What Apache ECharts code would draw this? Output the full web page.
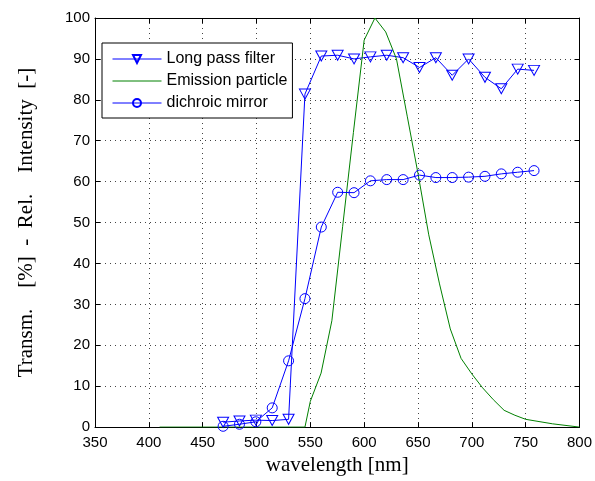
<!DOCTYPE html>
<html>
<head>
<meta charset="utf-8">
<script src="https://cdn.jsdelivr.net/npm/echarts@6/dist/echarts.min.js"></script>
<style>
  html, body { margin: 0; padding: 0; background: #fff; }
  #chart { width: 595px; height: 481px; }
</style>
</head>
<body>
<div id="chart"></div>
<script>
// ---- data ----
const filterWavelengths = [469, 484.2, 499.4, 514.6, 529.8, 545, 560.2, 575.4, 590.6, 605.8, 621, 636.2, 651.4, 666.6, 681.8, 697, 712.2, 727.4, 742.6, 757.8];
const longPassFilter = [1.2, 1.5, 1.7, 1.6, 1.9, 81.4, 90.7, 90.9, 90.0, 90.5, 90.9, 90.3, 87.9, 90.3, 86.0, 90.0, 85.5, 82.7, 87.5, 87.2];
const dichroicMirror = [0.2, 0.7, 1.3, 4.7, 16.2, 31.4, 48.9, 57.4, 57.3, 60.2, 60.5, 60.5, 61.6, 61.0, 61.0, 61.1, 61.3, 61.9, 62.3, 62.7];
const emissionWavelengths = [410, 545, 550, 560, 570, 580, 590, 600, 610, 620, 630, 640, 650, 660, 670, 680, 690, 700, 710, 720, 730, 740, 750, 775, 800];
const emissionParticle = [0, 0, 6.3, 13.2, 26, 49, 72, 94.6, 100, 96.6, 90, 76, 62, 47, 35, 24, 16.8, 13, 9.6, 6.7, 4.1, 2.9, 1.9, 0.8, 0];
const seriesNames = ['Long pass filter', 'Emission particle', 'dichroic mirror'];
const xTitle = 'wavelength [nm]';
const yTitle = 'Transm.    [%]  -  Rel.    Intensity  [-]';

const pairs = (xs, ys) => xs.map((x, i) => [x, ys[i]]);

const sans = 'Liberation Sans, Arial, sans-serif';
const serif = 'Liberation Serif, Times New Roman, serif';
const blue = '#0000ff';
const green = '#008000';

const chart = echarts.init(document.getElementById('chart'), null, { renderer: 'canvas' });

const gridLine = { show: true, lineStyle: { color: '#444', width: 1, type: [1, 4] } };

chart.setOption({
  animation: false,
  backgroundColor: '#fff',
  grid: { left: 95, right: 13, top: 18, bottom: 48, containLabel: false },
  legend: {
    orient: 'vertical',
    left: 102,
    top: 43,
    padding: [8, 5, 7, 10],
    itemWidth: 49,
    itemHeight: 10,
    itemGap: 6,
    backgroundColor: '#fff',
    borderColor: '#000',
    borderWidth: 1,
    borderRadius: 0,
    lineStyle: { width: 1 },
    textStyle: { fontFamily: sans, fontSize: 16, color: '#000', lineHeight: 16 },
    data: [
      { name: seriesNames[0] },
      { name: seriesNames[1], itemStyle: { opacity: 0 } },
      { name: seriesNames[2] }
    ]
  },
  xAxis: [
    {
      type: 'value', min: 350, max: 800, interval: 50, position: 'bottom',
      name: xTitle, nameLocation: 'middle', nameGap: 25,
      nameTextStyle: { fontFamily: serif, fontSize: 21, color: '#000' },
      axisLine: { show: true, onZero: false, lineStyle: { color: '#000', width: 1 } },
      axisTick: { show: true, inside: true, length: 5, lineStyle: { color: '#000' } },
      axisLabel: { fontFamily: sans, fontSize: 15, color: '#000', margin: 8 },
      splitLine: gridLine
    },
    {
      type: 'value', min: 350, max: 800, interval: 50, position: 'top',
      axisLine: { show: true, onZero: false, lineStyle: { color: '#000', width: 1 } },
      axisTick: { show: true, inside: true, length: 5, lineStyle: { color: '#000' } },
      axisLabel: { show: false },
      splitLine: { show: false }
    }
  ],
  yAxis: [
    {
      type: 'value', min: 0, max: 100, interval: 10, position: 'left',
      name: yTitle, nameLocation: 'middle', nameGap: 58,
      nameTextStyle: { fontFamily: serif, fontSize: 21, color: '#000' },
      axisLine: { show: true, onZero: false, lineStyle: { color: '#000', width: 1 } },
      axisTick: { show: true, inside: true, length: 5, lineStyle: { color: '#000' } },
      axisLabel: { fontFamily: sans, fontSize: 15, color: '#000', margin: 5 },
      splitLine: gridLine
    },
    {
      type: 'value', min: 0, max: 100, interval: 10, position: 'right',
      axisLine: { show: true, onZero: false, lineStyle: { color: '#000', width: 1 } },
      axisTick: { show: true, inside: true, length: 5, lineStyle: { color: '#000' } },
      axisLabel: { show: false },
      splitLine: { show: false }
    }
  ],
  series: [
    {
      name: seriesNames[0], type: 'line', xAxisIndex: 0, yAxisIndex: 0,
      data: pairs(filterWavelengths, longPassFilter),
      symbol: 'triangle', symbolRotate: 180, symbolSize: [11, 10],
      showAllSymbol: true,
      lineStyle: { color: blue, width: 1 },
      itemStyle: { color: 'rgba(255,255,255,0)', borderColor: blue, borderWidth: 1 },
      emphasis: { disabled: true }
    },
    {
      name: seriesNames[1], type: 'line', xAxisIndex: 0, yAxisIndex: 0,
      data: pairs(emissionWavelengths, emissionParticle),
      showSymbol: false, symbol: 'none',
      lineStyle: { color: green, width: 1 },
      itemStyle: { color: green },
      emphasis: { disabled: true }
    },
    {
      name: seriesNames[2], type: 'line', xAxisIndex: 0, yAxisIndex: 0,
      data: pairs(filterWavelengths, dichroicMirror),
      symbol: 'circle', symbolSize: 10,
      showAllSymbol: true,
      lineStyle: { color: blue, width: 1 },
      itemStyle: { color: 'rgba(255,255,255,0)', borderColor: blue, borderWidth: 1 },
      emphasis: { disabled: true }
    }
  ]
});
</script>
</body>
</html>
